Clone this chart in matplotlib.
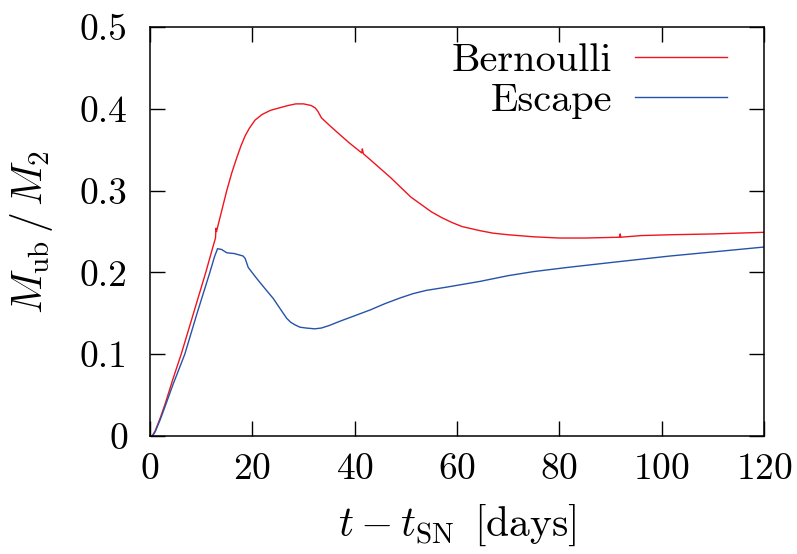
import matplotlib
matplotlib.use("Agg")
import matplotlib.pyplot as plt
from matplotlib.ticker import FuncFormatter

plt.rcParams['font.family'] = 'cmr10'
plt.rcParams['mathtext.fontset'] = 'cm'
plt.rcParams['axes.formatter.use_mathtext'] = True

# Bernoulli criterion (red)
t_bern = [0.4, 1.0, 2.0, 3.0, 4.5, 6.1, 8.5, 10.9, 12.2, 12.8, 12.9, 13.0,
          14.0, 15.0, 16.0, 17.0, 17.8, 18.6, 19.4, 20.5, 21.9, 23.5, 25.2,
          27.0, 28.5, 30.0, 31.5, 32.3, 32.8, 33.5, 35.2, 37.0, 39.0, 41.4,
          41.5, 41.7, 43.0, 45.0, 47.0, 49.0, 51.0, 53.0, 55.0, 57.0, 59.0,
          61.0, 64.5, 67.0, 70.0, 75.0, 80.0, 85.0, 91.8, 91.9, 92.0, 96.0,
          101.6, 110.0, 120.0]
m_bern = [0.0, 0.006, 0.022, 0.040, 0.070, 0.100, 0.150, 0.200, 0.229, 0.242,
          0.254, 0.250, 0.275, 0.300, 0.322, 0.341, 0.355, 0.367, 0.376, 0.386,
          0.393, 0.398, 0.401, 0.404, 0.406, 0.406, 0.404, 0.401, 0.397, 0.389,
          0.379, 0.369, 0.358, 0.346, 0.351, 0.345, 0.338, 0.327, 0.316, 0.304,
          0.292, 0.283, 0.274, 0.267, 0.261, 0.256, 0.251, 0.248, 0.246, 0.2435,
          0.242, 0.242, 0.243, 0.247, 0.243, 0.245, 0.246, 0.247, 0.249]

# escape velocity criterion (blue)
t_esc = [0.5, 1.0, 2.0, 3.0, 4.5, 6.8, 9.2, 11.7, 12.6, 13.2, 14.0, 15.0, 16.5,
         18.2, 18.6, 19.2, 20.8, 22.5, 24.1, 25.5, 26.7, 27.5, 28.3, 29.3, 30.5,
         32.2, 33.5, 35.0, 37.0, 40.0, 43.0, 46.0, 49.0, 51.4, 54.0, 58.0, 64.5,
         70.0, 75.0, 81.5, 90.0, 101.6, 110.0, 120.0]
m_esc = [0.0, 0.005, 0.020, 0.037, 0.063, 0.100, 0.150, 0.200, 0.219, 0.229,
         0.228, 0.224, 0.223, 0.220, 0.217, 0.206, 0.193, 0.180, 0.168, 0.155,
         0.144, 0.139, 0.136, 0.133, 0.132, 0.131, 0.132, 0.135, 0.140, 0.147,
         0.154, 0.162, 0.169, 0.174, 0.178, 0.182, 0.189, 0.196, 0.201, 0.206,
         0.212, 0.220, 0.225, 0.231]

fig = plt.figure(figsize=(7.97, 5.54), dpi=100)
ax = fig.add_axes([0.1882, 0.213, 0.7704, 0.7383])

ax.plot(t_bern, m_bern, color='#f0141e', lw=1.0, label='Bernoulli')
ax.plot(t_esc, m_esc, color='#2553a8', lw=1.0, label='Escape')

ax.set_xlim(0, 120)
ax.set_ylim(0, 0.5)
ax.set_xticks(range(0, 121, 20))
ax.set_yticks([0, 0.1, 0.2, 0.3, 0.4, 0.5])
ax.yaxis.set_major_formatter(FuncFormatter(lambda v, p: f'{v:g}'))
ax.tick_params(direction='in', length=11, width=1.0, top=True, right=True,
               labelsize=27)
ax.tick_params(axis='x', pad=12)
ax.tick_params(axis='y', pad=16)
for s in ax.spines.values():
    s.set_linewidth(1.1)

ax.set_xlabel(r'$t - t_{\mathrm{SN}}\ \, [\mathrm{days}]$', fontsize=30,
              labelpad=12)
ax.set_ylabel(r'$M_{\mathrm{ub}}\,/\,M_2$', fontsize=30, labelpad=18)

ax.legend(loc='upper right', bbox_to_anchor=(0.94, 0.962), frameon=False,
          markerfirst=False, fontsize=29, handlelength=2.28, handletextpad=0.57,
          labelspacing=0.1, borderaxespad=0, borderpad=0)

fig.savefig('out.png', dpi=100)
